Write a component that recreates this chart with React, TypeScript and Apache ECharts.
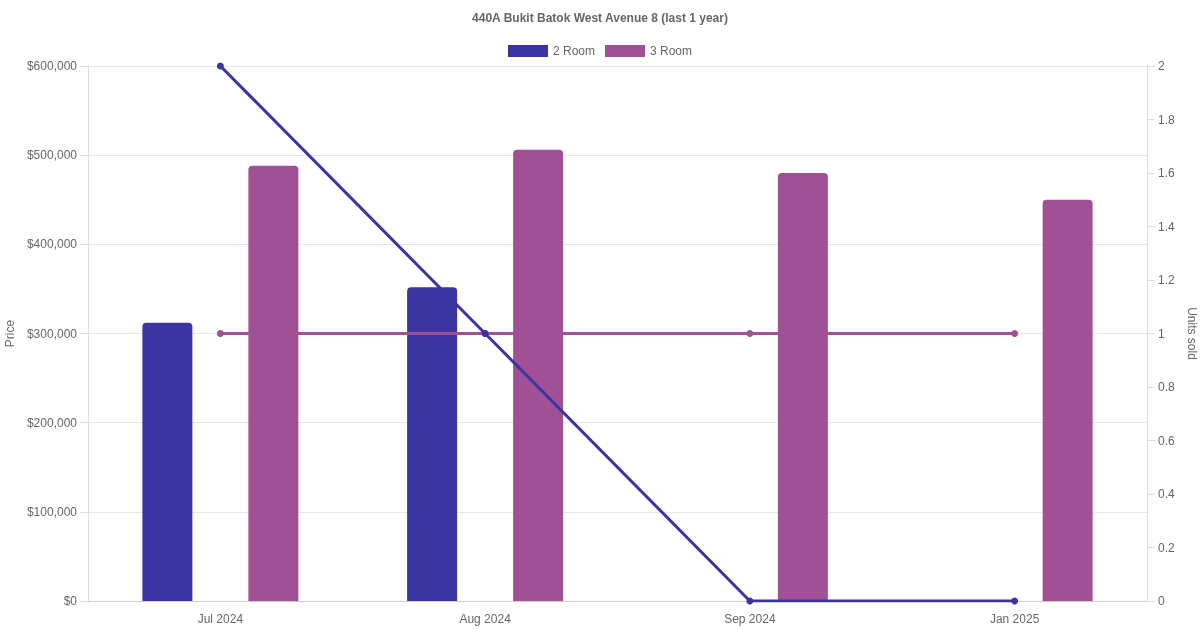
import React, { useEffect, useRef } from "react";
import * as echarts from "echarts";

const categories = ["Jul 2024", "Aug 2024", "Sep 2024", "Jan 2025"];
const price2Room: (number | null)[] = [312000, 352000, null, null];
const price3Room: (number | null)[] = [488000, 506000, 480000, 450000];
const units2Room = [2, 1, 0, 0];
const units3Room = [1, 1, 1, 1];

const BLUE = "#3A35A0";
const PURPLE = "#A05195";
const FONT = "Liberation Sans, Arial, Helvetica, sans-serif";

export default function App() {
  const ref = useRef<HTMLDivElement>(null);
  useEffect(() => {
    if (!ref.current) return;
    document.body.style.margin = "0";
    document.body.style.overflow = "hidden";
    const chart = echarts.init(ref.current, undefined, { renderer: "svg" });
    chart.setOption({
      animation: false,
      textStyle: { fontFamily: FONT },
      title: {
        text: "440A Bukit Batok West Avenue 8 (last 1 year)",
        left: "center",
        top: 7,
        textStyle: { fontSize: 12, fontWeight: "bold", color: "#666", fontFamily: FONT },
      },
      legend: {
        data: ["2 Room", "3 Room"],
        top: 40,
        left: "center",
        icon: "rect",
        itemWidth: 40,
        itemHeight: 12,
        itemGap: 10,
        textStyle: { fontSize: 12, color: "#666", fontFamily: FONT },
      },
      grid: { left: 88, right: 53, top: 66, bottom: 29, containLabel: false, outerBoundsMode: "none" },
      xAxis: {
        type: "category",
        data: categories,
        axisTick: { show: false },
        axisLine: { lineStyle: { color: "#ccc" } },
        axisLabel: { color: "#666", fontSize: 12, margin: 12, fontFamily: FONT },
        splitLine: { show: false },
      },
      yAxis: [
        {
          type: "value",
          min: 0,
          max: 600000,
          interval: 100000,
          name: "Price",
          nameLocation: "middle",
          nameGap: 69,
          nameRotate: 90,
          nameTextStyle: { color: "#666", fontSize: 12, fontFamily: FONT },
          axisLine: { show: true, lineStyle: { color: "#ddd" } },
          axisTick: { show: true, length: 8, lineStyle: { color: "#ddd" } },
          axisLabel: {
            color: "#666",
            fontSize: 12,
            margin: 11,
            fontFamily: FONT,
            formatter: (v: number) => "$" + v.toLocaleString("en-US"),
          },
          splitLine: { show: true, lineStyle: { color: "#e6e6e6" } },
        },
        {
          type: "value",
          min: 0,
          max: 2,
          interval: 0.2,
          name: "Units sold",
          nameLocation: "middle",
          nameGap: 32,
          nameRotate: -90,
          nameTextStyle: { color: "#666", fontSize: 12, fontFamily: FONT },
          axisLine: { show: true, lineStyle: { color: "#ddd" } },
          axisTick: { show: true, length: 8, lineStyle: { color: "#ddd" } },
          axisLabel: {
            color: "#666",
            fontSize: 12,
            margin: 11,
            fontFamily: FONT,
            formatter: (v: number) => String(Math.round(v * 10) / 10),
          },
          splitLine: { show: false },
        },
      ],
      series: [
        {
          name: "2 Room",
          type: "bar",
          data: price2Room,
          barWidth: 50,
          barGap: "112%",
          itemStyle: { color: BLUE, borderRadius: [4, 4, 0, 0] },
          z: 2,
        },
        {
          name: "3 Room",
          type: "bar",
          data: price3Room,
          barWidth: 50,
          barGap: "112%",
          itemStyle: { color: PURPLE, borderRadius: [4, 4, 0, 0] },
          z: 2,
        },
        {
          name: "3 Room",
          type: "line",
          yAxisIndex: 1,
          data: units3Room,
          symbol: "circle",
          symbolSize: 7,
          lineStyle: { color: PURPLE, width: 3 },
          itemStyle: { color: PURPLE },
          z: 3,
        },
        {
          name: "2 Room",
          type: "line",
          yAxisIndex: 1,
          data: units2Room,
          symbol: "circle",
          symbolSize: 7,
          lineStyle: { color: BLUE, width: 3 },
          itemStyle: { color: BLUE },
          z: 4,
        },
      ],
    });
    return () => chart.dispose();
  }, []);
  return (
    <div
      ref={ref}
      style={{ position: "fixed", left: 0, top: 0, width: 1200, height: 630 }}
    />
  );
}
